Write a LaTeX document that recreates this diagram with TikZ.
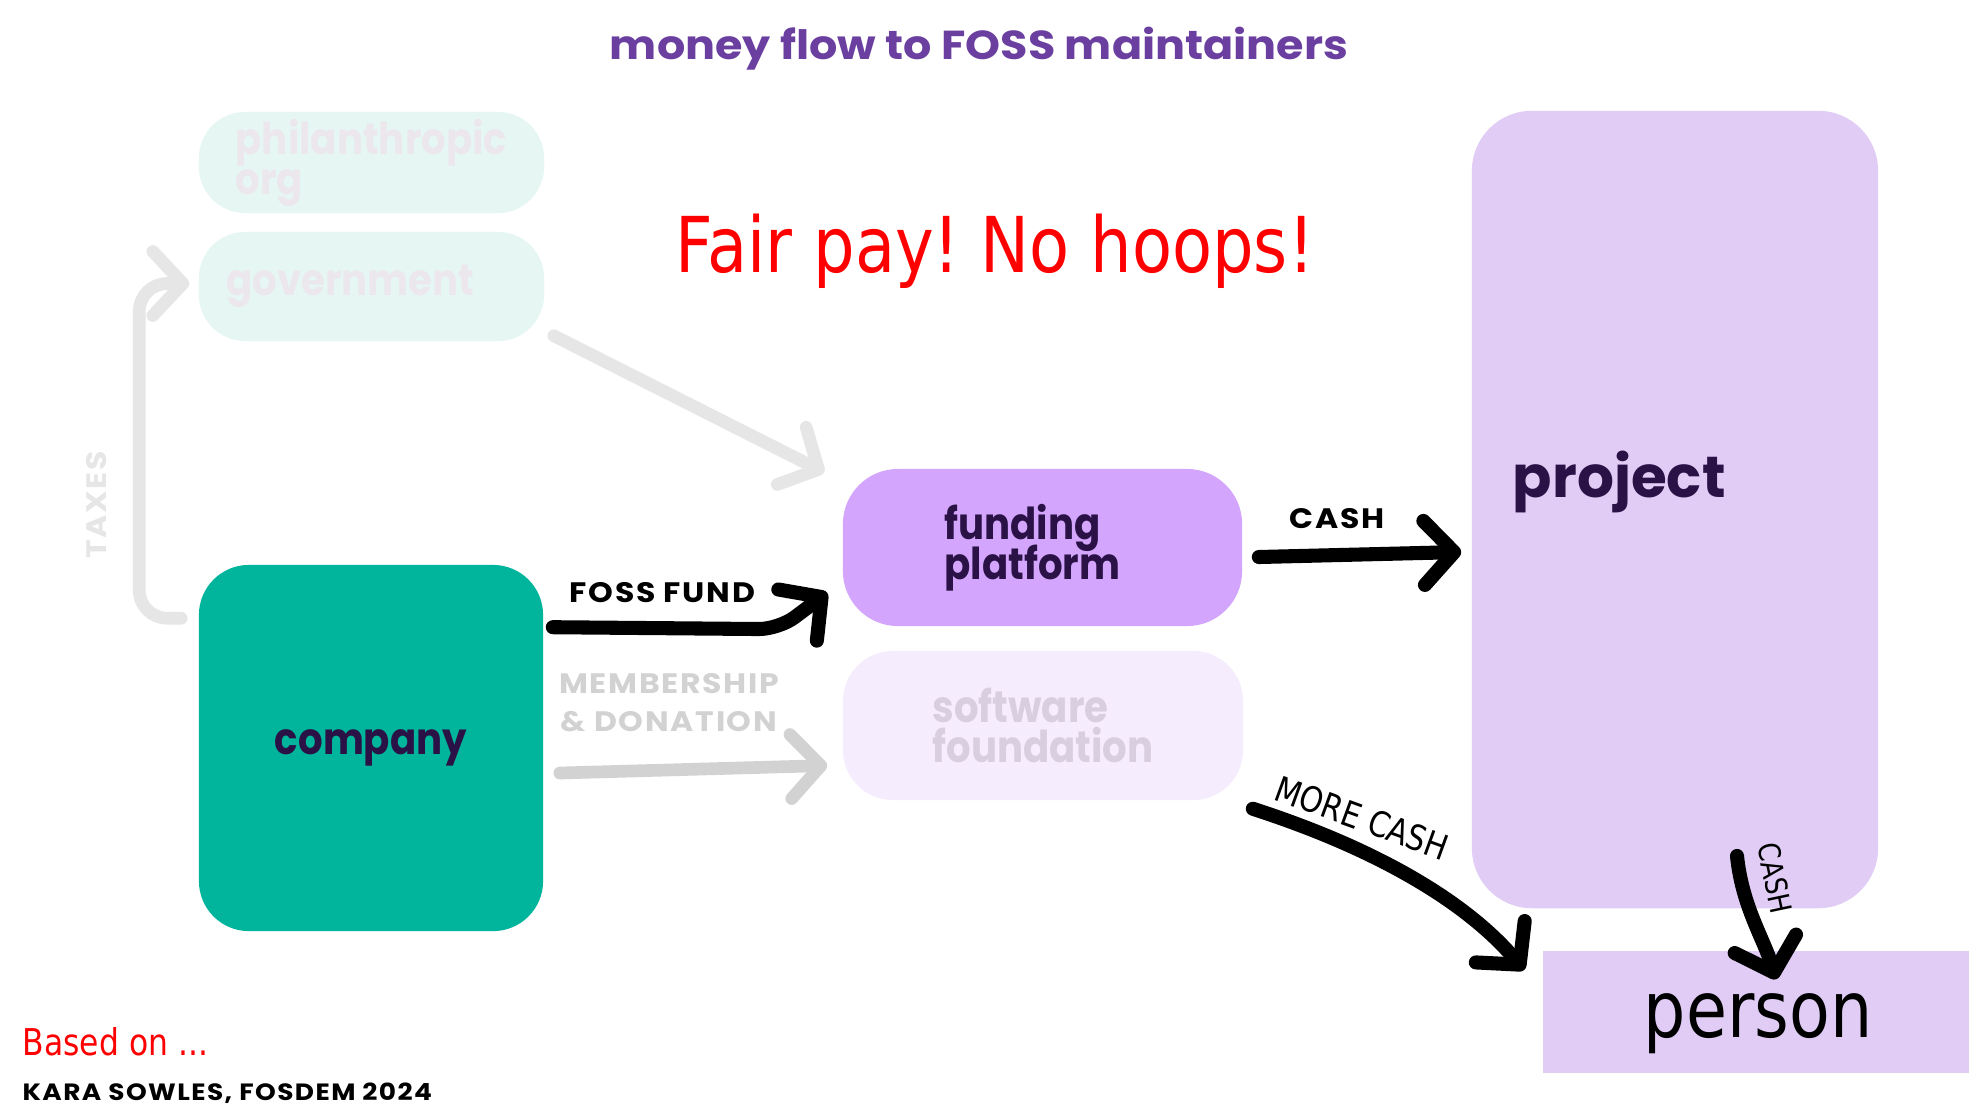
\documentclass[tikz,border=0pt]{standalone}
\usepackage{fontspec}
\usepackage{xcolor}
\usepackage{tikz}
\usetikzlibrary{arrows.meta,calc}
\newfontfamily\mfgeo{Poppins}
\newfontfamily\mfnarrow{Poppins}[FakeStretch=0.88]
\newfontfamily\mftitle{Poppins}[FakeStretch=1.1]
\newfontfamily\mfcaps{Poppins}[FakeStretch=1.12,LetterSpace=6]
\newfontfamily\mfhand{DejaVu Sans}[FakeStretch=0.85]
\definecolor{mfTitle}{HTML}{6B3FA0}
\definecolor{mfInk}{HTML}{2A1247}
\definecolor{mfTeal}{HTML}{00B59B}
\definecolor{mfMint}{HTML}{E6F7F3}
\definecolor{mfMintText}{HTML}{ECE7EC}
\definecolor{mfLilac}{HTML}{D3A5FC}
\definecolor{mfPale}{HTML}{F5ECFE}
\definecolor{mfPaleText}{HTML}{D8CEE0}
\definecolor{mfProject}{HTML}{E0CCF5}
\definecolor{mfGrey}{HTML}{E6E6E6}
\definecolor{mfGreyDark}{HTML}{D2D2D2}
\definecolor{mfRed}{HTML}{FF0000}
\frenchspacing
\tikzset{
  mf diagram/.style={x=0.01cm, y=-0.01cm, line cap=round, line join=round},
  mf box/.style={draw=none, inner sep=0pt, align=left, text=mfInk,
    font=\mfnarrow\bfseries\fontsize{12.5}{11.4}\selectfont},
  mf pill/.style={mf box, rounded corners=0.46cm, minimum width=3.45cm},
  mf caps/.style={inner sep=0pt, align=center,
    font=\mfcaps\bfseries\fontsize{8}{10.8}\selectfont},
  mf hand/.style={inner sep=0pt, font=\mfhand\fontsize{10}{12}\selectfont},
  mf arrow/.style={-{Straight Barb[length=0.3cm,width=0.64cm,round]},
    line width=4pt, draw=black},
  mf faint arrow/.style={mf arrow, line width=3.6pt, draw=mfGrey}
}
\begin{document}
\lineskiplimit=-100pt
\begin{tikzpicture}[mf diagram]
\useasboundingbox (0,0) rectangle (1988,1114);
\fill[white] (0,0) rectangle (1988,1114);
% headings
\node[font=\mftitle\bfseries\fontsize{11.5}{13}\selectfont, text=mfTitle, anchor=base] (title) at (979,59) {money flow to FOSS maintainers};
\node[mf hand, font=\mfhand\fontsize{21.9}{24}\selectfont, text=mfRed, anchor=base] (slogan) at (995,272) {Fair pay! No hoops!};
% boxes
\node[mf pill, fill=mfMint, text=mfMintText, minimum height=1.01cm] (phil) at (371.5,162.5) {philanthropic\\org};
\node[mf pill, fill=mfMint, text=mfMintText, minimum height=1.09cm] (gov) at (371.5,286.5) {government\hspace*{0.42cm}};
\node[mf box, fill=mfTeal, rounded corners=0.5cm, minimum width=3.44cm, minimum height=3.66cm] (company) at (371,748) {\raisebox{-0.08cm}{company}};
\node[mf box, fill=mfLilac, rounded corners=0.55cm, minimum width=3.99cm, minimum height=1.57cm] (fund) at (1042.5,547.5) {funding\\platform\hspace*{0.2cm}};
\node[mf box, fill=mfPale, text=mfPaleText, rounded corners=0.5cm, minimum width=4cm, minimum height=1.49cm] (soft) at (1043,725.5) {software\\foundation};
\node[mf box, fill=mfProject, rounded corners=0.6cm, minimum width=4.06cm, minimum height=7.97cm] (project) at (1675,509.5) {};
\node[mf box, font=\mfgeo\bfseries\fontsize{16.5}{18}\selectfont, anchor=base west] (projectname) at ([xshift=0.41cm,yshift=0.125cm]project.west) {project};
\node[fill=mfProject, minimum width=4.26cm, minimum height=1.22cm] (person) at (1756,1012) {};
\node[mf hand, font=\mfhand\fontsize{22.3}{24}\selectfont, anchor=base] (personname) at ([xshift=0.02cm,yshift=-0.25cm]person.center) {person};
% money flows
\draw[mf faint arrow, rounded corners=0.28cm] ($(company.north west)+(-17,54)$) -| ($(gov.west)+(-59,-3)$) -- ($(gov.west)+(-9,-3)$);
\draw[mf faint arrow] ($(gov.south east)+(9,-6)$) -- ($(fund.north west)+(-18,4)$);
\draw[mf faint arrow, draw=mfGreyDark] ($(company.east)+(16,25)$) -- ($(soft.west)+(-15,40)$);
\draw[mf arrow, rounded corners=0.2cm] ($(company.north east)+(9,63)$) -- ++(226,2) -- ($(fund.south west)+(-15,-34)$);
\draw[mf arrow] ($(fund.east)+(16,9.5)$) -- ($(project.west)+(-10,42.5)$);
\draw[mf arrow] ($(soft.south east)+(9,8)$) .. controls +(130,42) and +(-55,-65) .. ($(person.west)+(-18,-42)$);
\draw[mf arrow] ($(project.south)+(62,-53)$) .. controls +(5,50) and +(-12,-40) .. ($(person.north)+(20,29)$);
% flow labels
\node[mf caps, text=mfGrey, rotate=90] (taxlabel) at (97,505) {TAXES};
\node[mf caps, anchor=base west] (fosslabel) at (569,602) {FOSS FUND};
\node[mf caps, text=mfGreyDark] (memberlabel) at (669,703) {MEMBERSHIP\\\& DONATION};
\node[mf caps, anchor=base west] (cashlabel) at (1289,528) {CASH};
\node[mf hand, rotate=-20] (morecashlabel) at (1362,818) {MORE CASH};
\node[mf hand, font=\mfhand\fontsize{8.5}{10}\selectfont, rotate=-78] (cashdown) at (1775,878) {CASH};
% credit
\node[mf hand, font=\mfhand\fontsize{10.5}{12}\selectfont, text=mfRed, anchor=base west] (based) at (22,1055) {Based on ...};
\node[mf caps, font=\mfcaps\bfseries\fontsize{6.7}{8}\selectfont, anchor=base west] (credit) at (22,1100) {KARA SOWLES, FOSDEM 2024};
\end{tikzpicture}
\end{document}
